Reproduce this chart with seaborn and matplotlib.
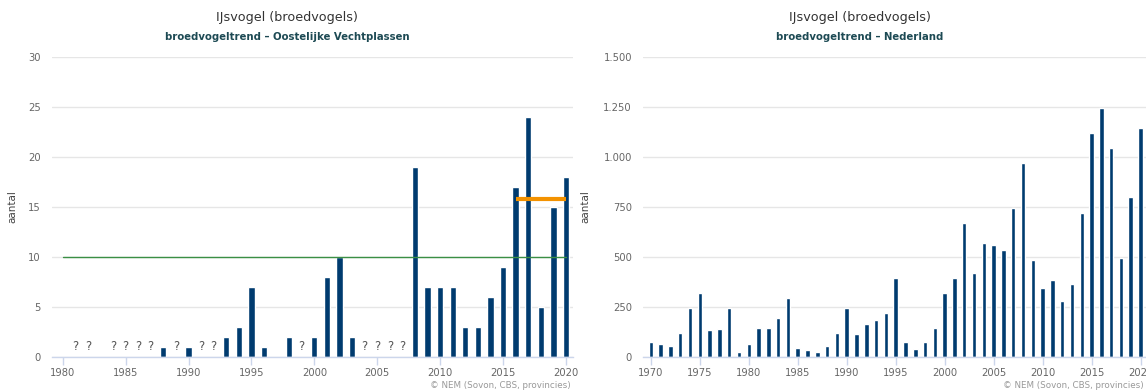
import numpy as np
import matplotlib
matplotlib.use("Agg")
import matplotlib.pyplot as plt
import seaborn as sns

# --- Oostelijke Vechtplassen: territoria per jaar (0 = niet gevonden) ---
region_years = [1988, 1990, 1993, 1994, 1995, 1996, 1997, 1998, 2000, 2001,
                2002, 2003, 2008, 2009, 2010, 2011, 2012, 2013, 2014, 2015,
                2016, 2017, 2018, 2019, 2020]
region_counts = [1, 1, 2, 3, 7, 1, 0, 2, 2, 8,
                 10, 2, 19, 7, 7, 7, 3, 3, 6, 9,
                 17, 24, 5, 15, 18]
# jaren zonder (volledige) telling
unknown_years = [1981, 1982, 1984, 1985, 1986, 1987, 1989, 1991, 1992, 1999,
                 2004, 2005, 2006, 2007]
reference_level = 10
reference_span = [1980, 2020]
recent_span = [2016, 2020]

# --- Nederland: landelijke index/aantal per jaar ---
nl_years = list(range(1970, 2021))
nl_counts = [75, 65, 55, 120, 245, 320, 135, 140, 245, 25,
             65, 145, 145, 195, 295, 45, 35, 25, 55, 120,
             245, 115, 165, 185, 220, 395, 75, 40, 75, 145,
             320, 395, 670, 420, 570, 560, 535, 745, 970, 485,
             345, 385, 280, 365, 720, 1120, 1245, 1045, 495, 800,
             1145]

title = "IJsvogel (broedvogels)"
subtitles = ["broedvogeltrend – Oostelijke Vechtplassen", "broedvogeltrend – Nederland"]
credit = "© NEM (Sovon, CBS, provincies)"

BAR = "#003b6f"
GRID = "#e6e6e6"
AXIS = "#ccd6eb"
LABEL = "#666666"

sns.set_style("white")
plt.rcParams["font.family"] = ["DejaVu Sans"]

W, H = 1146, 392
fig = plt.figure(figsize=(W / 100, H / 100), dpi=100)

def px_axes(x0, x1, y_top, y_bot):
    return fig.add_axes([x0 / W, 1 - y_bot / H, (x1 - x0) / W, (y_bot - y_top) / H])

def style(ax, xticks, yticks, ylabels, label_x):
    ax.set_yticks(yticks)
    ax.set_yticklabels(ylabels)
    ax.set_xticks(xticks)
    ax.set_xticklabels([str(t) for t in xticks])
    ax.yaxis.grid(True, color=GRID, linewidth=1)
    ax.xaxis.grid(False)
    ax.set_axisbelow(True)
    for s in ("top", "right", "left"):
        ax.spines[s].set_visible(False)
    ax.spines["bottom"].set_color(AXIS)
    ax.spines["bottom"].set_linewidth(1)
    ax.tick_params(axis="x", length=6, width=1, color=AXIS, labelsize=7.2,
                   labelcolor=LABEL, pad=2, direction="out", bottom=True)
    ax.tick_params(axis="y", length=0, labelsize=7.2, labelcolor=LABEL, pad=8)
    ax.set_xlabel("")
    ax.set_ylabel("aantal", fontsize=7.5, color="#444444")
    ax.yaxis.set_label_coords(label_x, 0.5)

# ---------------- left panel ----------------
ax1 = px_axes(52, 573, 57, 357)
sns.barplot(x=region_years, y=region_counts, native_scale=True, color=BAR,
            saturation=1, width=0.5, errorbar=None, ax=ax1)
ax1.set_xlim(1979.15, 2020.56)
ax1.set_ylim(0, 30)
ax1.plot(reference_span, [reference_level] * 2, color="#3a8f45", linewidth=1, zorder=3)
recent = [c for y, c in zip(region_years, region_counts)
          if recent_span[0] <= y <= recent_span[1]]
ax1.plot(recent_span, [np.mean(recent)] * 2, color="#f39200", linewidth=3,
         solid_capstyle="butt", zorder=4)
for y in unknown_years:
    ax1.text(y, 0.35, "?", ha="center", va="bottom", fontsize=8.5, color="#555555")
style(ax1, list(range(1980, 2021, 5)), list(range(0, 31, 5)),
      [str(v) for v in range(0, 31, 5)], (17 - 52) / 521)

# ---------------- right panel ----------------
ax2 = px_axes(643, 1146, 57, 357)
sns.barplot(x=nl_years, y=nl_counts, native_scale=True, color=BAR,
            saturation=1, width=0.46, errorbar=None, ax=ax2)
ax2.set_xlim(1969.2, 2020.56)
ax2.set_ylim(0, 1500)
yt = list(range(0, 1501, 250))
style(ax2, list(range(1970, 2021, 5)), yt,
      [f"{v:,}".replace(",", ".") for v in yt], (590 - 643) / 503)

# titles and credits
for cx, sub, right in ((287, subtitles[0], 573), (860, subtitles[1], 1146)):
    fig.text(cx / W, 1 - 17 / H, title, ha="center", va="center",
             fontsize=9.2, color="#333333")
    fig.text(cx / W, 1 - 37 / H, sub, ha="center", va="center",
             fontsize=7.3, color="#1d4a54", fontweight="semibold")
    fig.text((right - 2) / W, 1 - 385 / H, credit, ha="right", va="center",
             fontsize=6.3, color="#999999")

fig.savefig("out.png", dpi=100)
